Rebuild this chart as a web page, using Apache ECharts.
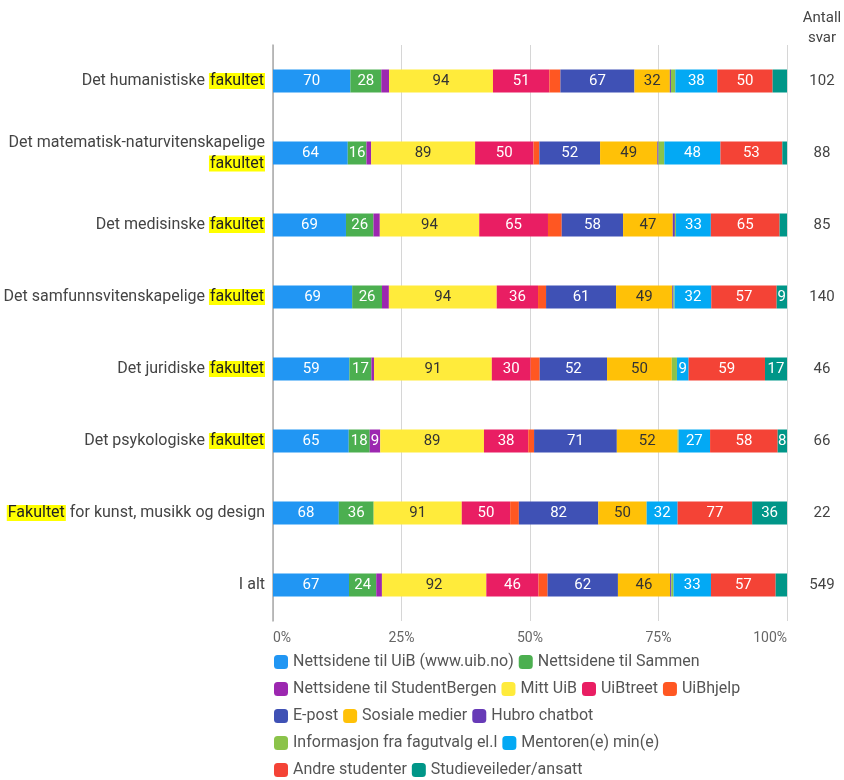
<!DOCTYPE html>
<html>
<head>
<meta charset="utf-8">
<script src="https://cdn.jsdelivr.net/npm/echarts@6/dist/echarts.min.js"></script>
<style>
html,body{margin:0;padding:0;background:#fff;}
#chart{width:844px;height:780px;}
</style>
</head>
<body>
<div id="chart"></div>
<script>
const categories = [
  'Det humanistiske fakultet',
  'Det matematisk-naturvitenskapelige\nfakultet',
  'Det medisinske fakultet',
  'Det samfunnsvitenskapelige fakultet',
  'Det juridiske fakultet',
  'Det psykologiske fakultet',
  'Fakultet for kunst, musikk og design',
  'I alt'
];
const responses = [102, 88, 85, 140, 46, 66, 22, 549];
const xTicks = [0, 25, 50, 75, 100];

const seriesNames = [
  'Nettsidene til UiB (www.uib.no)', 'Nettsidene til Sammen', 'Nettsidene til StudentBergen',
  'Mitt UiB', 'UiBtreet', 'UiBhjelp', 'E-post', 'Sosiale medier', 'Hubro chatbot',
  'Informasjon fra fagutvalg el.l', 'Mentoren(e) min(e)', 'Andre studenter', 'Studieveileder/ansatt'
];
const nettsideneUiB   = [70, 64, 69, 69, 59, 65, 68, 67];
const nettsideneSammen= [28, 16, 26, 26, 17, 18, 36, 24];
const studentBergen   = [7, 4, 6, 6, 2, 9, 0, 5];
const mittUiB         = [94, 89, 94, 94, 91, 89, 91, 92];
const uibTreet        = [51, 50, 65, 36, 30, 38, 50, 46];
const uibHjelp        = [10, 5, 13, 7, 7, 5, 9, 8];
const ePost           = [67, 52, 58, 61, 52, 71, 82, 62];
const sosialeMedier   = [32, 49, 47, 49, 50, 52, 50, 46];
const hubroChatbot    = [1, 1, 2, 1, 0, 0, 0, 1];
const fagutvalg       = [4, 5, 1, 1, 4, 1, 0, 2];
const mentoren        = [38, 48, 33, 32, 9, 27, 32, 33];
const andreStudenter  = [50, 53, 65, 57, 59, 58, 77, 57];
const studieveileder  = [13, 4, 7, 9, 17, 8, 36, 10];

const seriesValues = [nettsideneUiB, nettsideneSammen, studentBergen, mittUiB, uibTreet, uibHjelp,
  ePost, sosialeMedier, hubroChatbot, fagutvalg, mentoren, andreStudenter, studieveileder];
const colors = ['#2196F3','#4CAF50','#9C27B0','#FFEB3B','#E91E63','#FF5722','#3F51B5','#FFC107',
  '#673AB7','#8BC34A','#03A9F4','#F44336','#009688'];
const darkLabel = {3: true, 7: true};

const rowTotals = categories.map((c, i) => seriesValues.reduce((s, arr) => s + arr[i], 0));

const series = seriesNames.map((name, si) => ({
  name: name,
  type: 'bar',
  stack: 'total',
  barWidth: 23,
  itemStyle: { color: colors[si] },
  emphasis: { disabled: true },
  label: {
    show: true,
    position: 'inside',
    color: darkLabel[si] ? '#333' : '#fff',
    fontSize: 15,
    fontFamily: 'Roboto',
    formatter: function (p) {
      const raw = seriesValues[si][p.dataIndex];
      const pct = p.value;
      const need = raw < 10 ? 1.79 : 3.4;
      return (raw > 0 && pct >= need) ? String(raw) : '';
    }
  },
  data: seriesValues[si].map((v, i) => v / rowTotals[i] * 100)
}));

const chart = echarts.init(document.getElementById('chart'), null, {renderer: 'canvas'});
chart.setOption({
  animation: false,
  textStyle: { fontFamily: 'Roboto' },
  title: {
    text: 'Antall\nsvar',
    left: 822, top: 8,
    textAlign: 'center',
    padding: 0,
    textStyle: { fontSize: 15, fontWeight: 'normal', color: '#444', lineHeight: 20, fontFamily: 'Roboto' }
  },
  grid: { left: 273, right: 57, top: 45, height: 576 },
  legend: {
    left: 274, top: 651, width: 480, padding: 0,
    itemWidth: 14, itemHeight: 14, itemGap: 5,
    icon: 'roundRect',
    textStyle: { fontSize: 16, color: '#555', lineHeight: 22, fontFamily: 'Roboto' },
    data: seriesNames
  },
  xAxis: {
    type: 'value', min: 0, max: 100, interval: 25,
    axisLabel: { formatter: '{value}%', color: '#666', fontSize: 14, margin: 10,
      alignMinLabel: 'left', alignMaxLabel: 'right' },
    axisLine: { show: false }, axisTick: { show: false },
    splitLine: { lineStyle: { color: '#d6d6d6' } }
  },
  yAxis: [{
    type: 'category', data: categories, inverse: true,
    axisLine: { show: true, lineStyle: { color: '#aaa', width: 1.5 } },
    axisTick: { show: false },
    axisLabel: {
      color: '#444', fontSize: 16, margin: 8, lineHeight: 21, align: 'right',
      formatter: function (v) { return v.replace(/(fakultet|Fakultet)/, '{hl|$1}'); },
      rich: { hl: { backgroundColor: '#FFFF00', color: '#222', fontSize: 16, lineHeight: 21, padding: [0, 1, 0, 1] } }
    }
  }, {
    type: 'category', data: responses.map(String), inverse: true, position: 'right',
    axisLine: { show: false }, axisTick: { show: false },
    axisLabel: { color: '#444', fontSize: 15, margin: 35, align: 'center' }
  }],
  series: series
});
</script>
</body>
</html>
